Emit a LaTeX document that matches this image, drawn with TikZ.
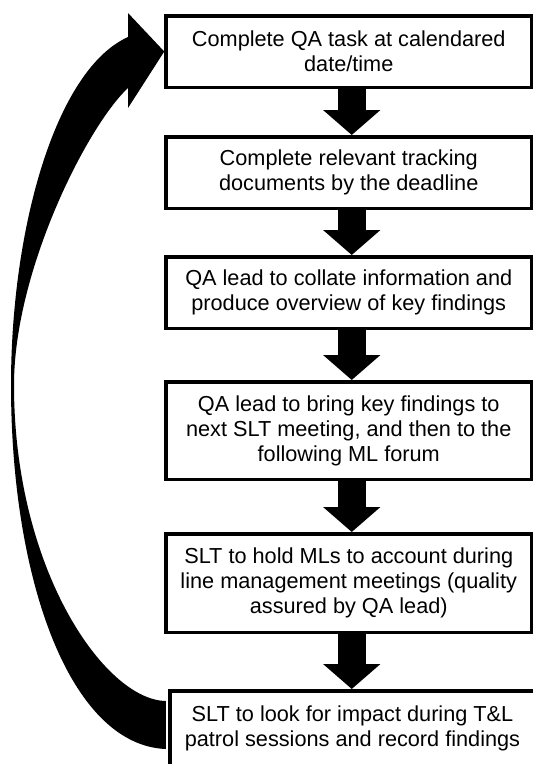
\documentclass[tikz,border=0pt]{standalone}
\usepackage{fontspec}
\setmainfont{Liberation Sans}
\usetikzlibrary{arrows.meta,calc}
\begin{document}
\begin{tikzpicture}[x=1pt,y=-1pt,
  box/.style={draw=black, line width=3.5pt, fill=white, rectangle, inner sep=0pt,
    minimum width=365.5pt, align=center, text=black,
    font=\fontsize{21.7}{25}\selectfont},
  flowarrow/.style={draw=black, line width=28pt, -{Triangle[width=56pt,length=25pt]}}]
\useasboundingbox (0,0) rectangle (533,764);

\node[box, minimum height=71.5pt] (b1) at (348.75,51.5)
  {Complete QA task at calendared\\date/time};
\node[box, minimum height=71.5pt] (b2) at (348.75,172.5)
  {Complete relevant tracking\\documents by the deadline};
\node[box, minimum height=71.5pt] (b3) at (348.75,292.5)
  {QA lead to collate information and\\produce overview of key findings};
\node[box, minimum height=97.5pt] (b4) at (348.75,430.5)
  {QA lead to bring key findings to\\next SLT meeting, and then to the\\following ML forum};
\node[box, minimum height=98.5pt] (b5) at (348.75,583)
  {SLT to hold MLs to account during\\line management meetings (quality\\assured by QA lead)};
\node[box, minimum width=365pt, minimum height=76pt] (b6) at (352.5,728.75)
  {SLT to look for impact during T\&L\\patrol sessions and record findings};

\draw[flowarrow] ([xshift=3pt]b1.south) -- ([xshift=3pt]b2.north);
\draw[flowarrow] ([xshift=3pt]b2.south) -- ([xshift=3pt]b3.north);
\draw[flowarrow] ([xshift=3pt]b3.south) -- ([xshift=3pt]b4.north);
\draw[flowarrow] ([xshift=3pt]b4.south) -- ([xshift=3pt]b5.north);
\draw[flowarrow] ([xshift=3pt]b5.south) -- ([xshift=-0.75pt]b6.north);

% curved return arrow from b6 to b1
\coordinate (rs1) at ($(b6.west)+(-2.5,-27.75)$);
\coordinate (rs2) at ($(b6.west)+(-2.5,20.25)$);
\coordinate (tip) at (b1.west);
\fill[black] (128,37) .. controls (55,70) and (11,230) .. (11,385)
  .. controls (11,580) and (70,745) .. (rs2)
  -- (rs1)
  .. controls (105,700) and (14,570) .. (14,385)
  .. controls (14,270) and (88,125) .. (128,88)
  -- (128,108) -- (tip) -- (128,13) -- cycle;
\end{tikzpicture}
\end{document}
